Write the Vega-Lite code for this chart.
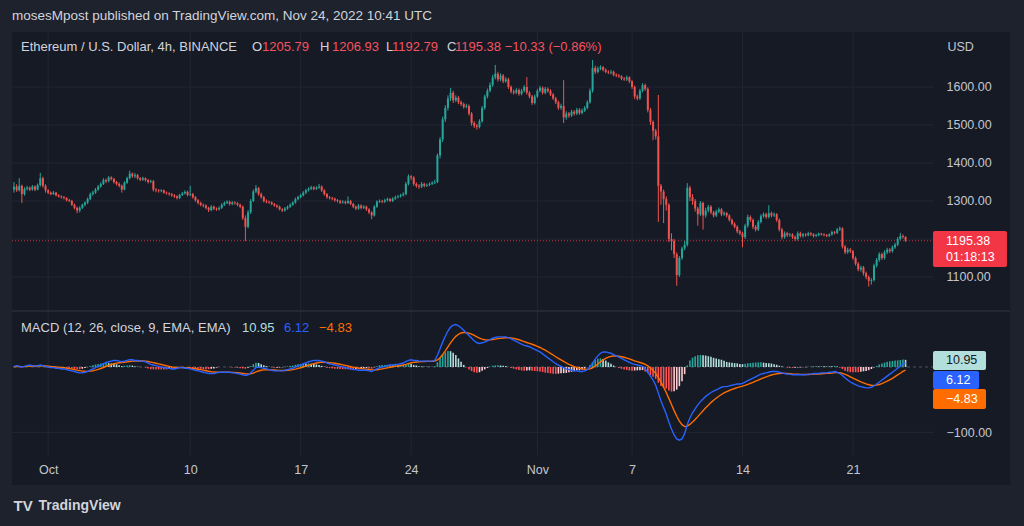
{
"$schema": "https://vega.github.io/schema/vega-lite/v6.json",
"width": 922, "height": 423,
"autosize": {"type": "none"},
"padding": {"left": 12, "top": 32, "right": 90, "bottom": 71},
"background": "#1e222d",
"config": {"view": {"fill": null, "stroke": null}, "font": "Liberation Sans", "text": {"font": "Liberation Sans"}},
"title": {"text": "mosesMpost published on TradingView.com, Nov 24, 2022 10:41 UTC", "anchor": "start", "frame": "group", "orient": "top", "offset": 11, "dy": 13, "fontSize": 13.5, "fontWeight": "normal", "color": "#d1d4dc", "baseline": "alphabetic", "font": "Liberation Sans"},
"datasets": {
"ohlc": [
{"t":"2022-09-28T20:00Z","o":1330,"hi":1350,"lo":1322,"c":1338,"m":1,"s":0.2,"h":0.8,"k":"gu"},
{"t":"2022-09-29T00:00Z","o":1338,"hi":1344,"lo":1324,"c":1328,"m":2,"s":0.6,"h":1.4,"k":"gu"},
{"t":"2022-09-29T04:00Z","o":1328,"hi":1360,"lo":1325,"c":1340,"m":1,"s":0.7,"h":0.3,"k":"gd"},
{"t":"2022-09-29T08:00Z","o":1340,"hi":1343,"lo":1295,"c":1318,"m":0,"s":0.6,"h":-0.6,"k":"rd"},
{"t":"2022-09-29T12:00Z","o":1318,"hi":1336,"lo":1314,"c":1332,"m":1,"s":0.7,"h":0.3,"k":"gu"},
{"t":"2022-09-29T16:00Z","o":1332,"hi":1340,"lo":1328,"c":1335,"m":2,"s":1.0,"h":1.0,"k":"gu"},
{"t":"2022-09-29T20:00Z","o":1335,"hi":1338,"lo":1326,"c":1330,"m":3,"s":1.4,"h":1.6,"k":"gu"},
{"t":"2022-09-30T00:00Z","o":1330,"hi":1342,"lo":1327,"c":1338,"m":2,"s":1.5,"h":0.5,"k":"gd"},
{"t":"2022-09-30T04:00Z","o":1338,"hi":1341,"lo":1326,"c":1330,"m":1,"s":1.4,"h":-0.4,"k":"rd"},
{"t":"2022-09-30T08:00Z","o":1330,"hi":1346,"lo":1328,"c":1342,"m":2,"s":1.5,"h":0.5,"k":"gu"},
{"t":"2022-09-30T12:00Z","o":1342,"hi":1374,"lo":1338,"c":1360,"m":3,"s":1.8,"h":1.2,"k":"gu"},
{"t":"2022-09-30T16:00Z","o":1360,"hi":1364,"lo":1335,"c":1340,"m":2,"s":1.8,"h":0.2,"k":"gd"},
{"t":"2022-09-30T20:00Z","o":1340,"hi":1344,"lo":1322,"c":1328,"m":1,"s":1.6,"h":-0.6,"k":"rd"},
{"t":"2022-10-01T00:00Z","o":1328,"hi":1331,"lo":1318,"c":1322,"m":0,"s":1.3,"h":-1.3,"k":"rd"},
{"t":"2022-10-01T04:00Z","o":1322,"hi":1325,"lo":1315,"c":1318,"m":-1,"s":0.8,"h":-1.8,"k":"rd"},
{"t":"2022-10-01T08:00Z","o":1318,"hi":1326,"lo":1316,"c":1322,"m":-1,"s":0.5,"h":-1.5,"k":"ru"},
{"t":"2022-10-01T12:00Z","o":1322,"hi":1324,"lo":1312,"c":1315,"m":-2,"s":0.0,"h":-2.0,"k":"rd"},
{"t":"2022-10-01T16:00Z","o":1315,"hi":1318,"lo":1309,"c":1312,"m":-2,"s":-0.4,"h":-1.6,"k":"ru"},
{"t":"2022-10-01T20:00Z","o":1312,"hi":1315,"lo":1306,"c":1310,"m":-3,"s":-0.9,"h":-2.1,"k":"rd"},
{"t":"2022-10-02T00:00Z","o":1310,"hi":1313,"lo":1304,"c":1308,"m":-3,"s":-1.3,"h":-1.7,"k":"ru"},
{"t":"2022-10-02T04:00Z","o":1308,"hi":1310,"lo":1299,"c":1302,"m":-4,"s":-1.8,"h":-2.2,"k":"rd"},
{"t":"2022-10-02T08:00Z","o":1302,"hi":1306,"lo":1297,"c":1300,"m":-5,"s":-2.5,"h":-2.5,"k":"rd"},
{"t":"2022-10-02T12:00Z","o":1300,"hi":1303,"lo":1287,"c":1290,"m":-6,"s":-3.2,"h":-2.8,"k":"rd"},
{"t":"2022-10-02T16:00Z","o":1290,"hi":1293,"lo":1278,"c":1282,"m":-7,"s":-4.0,"h":-3.0,"k":"rd"},
{"t":"2022-10-02T20:00Z","o":1282,"hi":1285,"lo":1268,"c":1275,"m":-8,"s":-4.8,"h":-3.2,"k":"rd"},
{"t":"2022-10-03T00:00Z","o":1275,"hi":1286,"lo":1270,"c":1282,"m":-9,"s":-5.6,"h":-3.4,"k":"rd"},
{"t":"2022-10-03T04:00Z","o":1282,"hi":1293,"lo":1279,"c":1290,"m":-9,"s":-6.3,"h":-2.7,"k":"ru"},
{"t":"2022-10-03T08:00Z","o":1290,"hi":1299,"lo":1286,"c":1296,"m":-8,"s":-6.6,"h":-1.4,"k":"ru"},
{"t":"2022-10-03T12:00Z","o":1296,"hi":1309,"lo":1292,"c":1305,"m":-7,"s":-6.7,"h":-0.3,"k":"ru"},
{"t":"2022-10-03T16:00Z","o":1305,"hi":1322,"lo":1302,"c":1318,"m":-5,"s":-6.4,"h":1.4,"k":"gu"},
{"t":"2022-10-03T20:00Z","o":1318,"hi":1327,"lo":1314,"c":1322,"m":-3,"s":-5.7,"h":2.7,"k":"gu"},
{"t":"2022-10-04T00:00Z","o":1322,"hi":1334,"lo":1319,"c":1330,"m":-1,"s":-4.8,"h":3.8,"k":"gu"},
{"t":"2022-10-04T04:00Z","o":1330,"hi":1342,"lo":1327,"c":1338,"m":1,"s":-3.6,"h":4.6,"k":"gu"},
{"t":"2022-10-04T08:00Z","o":1338,"hi":1349,"lo":1335,"c":1345,"m":3,"s":-2.3,"h":5.3,"k":"gu"},
{"t":"2022-10-04T12:00Z","o":1345,"hi":1360,"lo":1342,"c":1355,"m":5,"s":-0.8,"h":5.8,"k":"gu"},
{"t":"2022-10-04T16:00Z","o":1355,"hi":1359,"lo":1347,"c":1352,"m":7,"s":0.8,"h":6.2,"k":"gu"},
{"t":"2022-10-04T20:00Z","o":1352,"hi":1366,"lo":1349,"c":1362,"m":8,"s":2.2,"h":5.8,"k":"gd"},
{"t":"2022-10-05T00:00Z","o":1362,"hi":1365,"lo":1354,"c":1358,"m":9,"s":3.6,"h":5.4,"k":"gd"},
{"t":"2022-10-05T04:00Z","o":1358,"hi":1361,"lo":1346,"c":1350,"m":10,"s":4.9,"h":5.1,"k":"gd"},
{"t":"2022-10-05T08:00Z","o":1350,"hi":1353,"lo":1341,"c":1345,"m":10,"s":5.9,"h":4.1,"k":"gd"},
{"t":"2022-10-05T12:00Z","o":1345,"hi":1349,"lo":1336,"c":1340,"m":9,"s":6.5,"h":2.5,"k":"gd"},
{"t":"2022-10-05T16:00Z","o":1340,"hi":1343,"lo":1322,"c":1330,"m":8,"s":6.8,"h":1.2,"k":"gd"},
{"t":"2022-10-05T20:00Z","o":1330,"hi":1352,"lo":1328,"c":1348,"m":9,"s":7.2,"h":1.8,"k":"gu"},
{"t":"2022-10-06T00:00Z","o":1348,"hi":1364,"lo":1345,"c":1360,"m":10,"s":7.8,"h":2.2,"k":"gu"},
{"t":"2022-10-06T04:00Z","o":1360,"hi":1380,"lo":1357,"c":1372,"m":11,"s":8.4,"h":2.6,"k":"gu"},
{"t":"2022-10-06T08:00Z","o":1372,"hi":1375,"lo":1361,"c":1365,"m":11,"s":8.9,"h":2.1,"k":"gd"},
{"t":"2022-10-06T12:00Z","o":1365,"hi":1374,"lo":1360,"c":1368,"m":10,"s":9.1,"h":0.9,"k":"gd"},
{"t":"2022-10-06T16:00Z","o":1368,"hi":1371,"lo":1356,"c":1360,"m":10,"s":9.3,"h":0.7,"k":"gd"},
{"t":"2022-10-06T20:00Z","o":1360,"hi":1363,"lo":1352,"c":1356,"m":9,"s":9.2,"h":-0.2,"k":"rd"},
{"t":"2022-10-07T00:00Z","o":1356,"hi":1364,"lo":1353,"c":1360,"m":9,"s":9.2,"h":-0.2,"k":"rd"},
{"t":"2022-10-07T04:00Z","o":1360,"hi":1362,"lo":1351,"c":1355,"m":8,"s":9.0,"h":-1.0,"k":"rd"},
{"t":"2022-10-07T08:00Z","o":1355,"hi":1358,"lo":1346,"c":1350,"m":6,"s":8.4,"h":-2.4,"k":"rd"},
{"t":"2022-10-07T12:00Z","o":1350,"hi":1356,"lo":1347,"c":1352,"m":4,"s":7.5,"h":-3.5,"k":"rd"},
{"t":"2022-10-07T16:00Z","o":1352,"hi":1355,"lo":1325,"c":1330,"m":3,"s":6.6,"h":-3.6,"k":"rd"},
{"t":"2022-10-07T20:00Z","o":1330,"hi":1334,"lo":1323,"c":1328,"m":2,"s":5.7,"h":-3.7,"k":"rd"},
{"t":"2022-10-08T00:00Z","o":1328,"hi":1331,"lo":1322,"c":1326,"m":1,"s":4.8,"h":-3.8,"k":"rd"},
{"t":"2022-10-08T04:00Z","o":1326,"hi":1331,"lo":1323,"c":1328,"m":0,"s":3.8,"h":-3.8,"k":"rd"},
{"t":"2022-10-08T08:00Z","o":1328,"hi":1330,"lo":1319,"c":1322,"m":-1,"s":2.8,"h":-3.8,"k":"rd"},
{"t":"2022-10-08T12:00Z","o":1322,"hi":1325,"lo":1317,"c":1320,"m":-2,"s":1.8,"h":-3.8,"k":"rd"},
{"t":"2022-10-08T16:00Z","o":1320,"hi":1323,"lo":1314,"c":1318,"m":-2,"s":1.0,"h":-3.0,"k":"ru"},
{"t":"2022-10-08T20:00Z","o":1318,"hi":1321,"lo":1311,"c":1315,"m":-3,"s":0.2,"h":-3.2,"k":"rd"},
{"t":"2022-10-09T00:00Z","o":1315,"hi":1318,"lo":1308,"c":1312,"m":-3,"s":-0.4,"h":-2.6,"k":"ru"},
{"t":"2022-10-09T04:00Z","o":1312,"hi":1315,"lo":1304,"c":1308,"m":-2,"s":-0.7,"h":-1.3,"k":"ru"},
{"t":"2022-10-09T08:00Z","o":1308,"hi":1319,"lo":1305,"c":1316,"m":-1,"s":-0.8,"h":-0.2,"k":"ru"},
{"t":"2022-10-09T12:00Z","o":1316,"hi":1324,"lo":1313,"c":1320,"m":-1,"s":-0.8,"h":-0.2,"k":"rd"},
{"t":"2022-10-09T16:00Z","o":1320,"hi":1328,"lo":1317,"c":1324,"m":-2,"s":-1.0,"h":-1.0,"k":"rd"},
{"t":"2022-10-09T20:00Z","o":1324,"hi":1327,"lo":1312,"c":1316,"m":-2,"s":-1.2,"h":-0.8,"k":"ru"},
{"t":"2022-10-10T00:00Z","o":1316,"hi":1340,"lo":1313,"c":1318,"m":-3,"s":-1.6,"h":-1.4,"k":"rd"},
{"t":"2022-10-10T04:00Z","o":1318,"hi":1321,"lo":1306,"c":1310,"m":-4,"s":-2.1,"h":-1.9,"k":"rd"},
{"t":"2022-10-10T08:00Z","o":1310,"hi":1313,"lo":1298,"c":1302,"m":-5,"s":-2.7,"h":-2.3,"k":"rd"},
{"t":"2022-10-10T12:00Z","o":1302,"hi":1305,"lo":1291,"c":1295,"m":-6,"s":-3.4,"h":-2.6,"k":"rd"},
{"t":"2022-10-10T16:00Z","o":1295,"hi":1298,"lo":1286,"c":1290,"m":-7,"s":-4.1,"h":-2.9,"k":"rd"},
{"t":"2022-10-10T20:00Z","o":1290,"hi":1293,"lo":1283,"c":1288,"m":-8,"s":-4.9,"h":-3.1,"k":"rd"},
{"t":"2022-10-11T00:00Z","o":1288,"hi":1291,"lo":1278,"c":1282,"m":-9,"s":-5.7,"h":-3.3,"k":"rd"},
{"t":"2022-10-11T04:00Z","o":1282,"hi":1285,"lo":1271,"c":1276,"m":-10,"s":-6.6,"h":-3.4,"k":"rd"},
{"t":"2022-10-11T08:00Z","o":1276,"hi":1289,"lo":1273,"c":1285,"m":-10,"s":-7.3,"h":-2.7,"k":"ru"},
{"t":"2022-10-11T12:00Z","o":1285,"hi":1288,"lo":1276,"c":1280,"m":-10,"s":-7.8,"h":-2.2,"k":"ru"},
{"t":"2022-10-11T16:00Z","o":1280,"hi":1283,"lo":1274,"c":1278,"m":-9,"s":-8.0,"h":-1.0,"k":"ru"},
{"t":"2022-10-11T20:00Z","o":1278,"hi":1286,"lo":1275,"c":1282,"m":-8,"s":-8.0,"h":0,"k":"gu"},
{"t":"2022-10-12T00:00Z","o":1282,"hi":1294,"lo":1279,"c":1290,"m":-8,"s":-8.0,"h":0,"k":"gu"},
{"t":"2022-10-12T04:00Z","o":1290,"hi":1299,"lo":1287,"c":1295,"m":-8,"s":-8.0,"h":0,"k":"gu"},
{"t":"2022-10-12T08:00Z","o":1295,"hi":1302,"lo":1292,"c":1298,"m":-8,"s":-8.0,"h":0,"k":"gu"},
{"t":"2022-10-12T12:00Z","o":1298,"hi":1301,"lo":1288,"c":1292,"m":-8,"s":-8.0,"h":0,"k":"gu"},
{"t":"2022-10-12T16:00Z","o":1292,"hi":1300,"lo":1289,"c":1296,"m":-9,"s":-8.2,"h":-0.8,"k":"rd"},
{"t":"2022-10-12T20:00Z","o":1296,"hi":1299,"lo":1290,"c":1294,"m":-9,"s":-8.4,"h":-0.6,"k":"ru"},
{"t":"2022-10-13T00:00Z","o":1294,"hi":1297,"lo":1286,"c":1290,"m":-10,"s":-8.7,"h":-1.3,"k":"rd"},
{"t":"2022-10-13T04:00Z","o":1290,"hi":1293,"lo":1281,"c":1285,"m":-11,"s":-9.2,"h":-1.8,"k":"rd"},
{"t":"2022-10-13T08:00Z","o":1285,"hi":1288,"lo":1250,"c":1255,"m":-12,"s":-9.8,"h":-2.2,"k":"rd"},
{"t":"2022-10-13T12:00Z","o":1255,"hi":1262,"lo":1195,"c":1232,"m":-13,"s":-10.4,"h":-2.6,"k":"rd"},
{"t":"2022-10-13T16:00Z","o":1232,"hi":1276,"lo":1228,"c":1270,"m":-12,"s":-10.7,"h":-1.3,"k":"ru"},
{"t":"2022-10-13T20:00Z","o":1270,"hi":1305,"lo":1266,"c":1300,"m":-9,"s":-10.4,"h":1.4,"k":"gu"},
{"t":"2022-10-14T00:00Z","o":1300,"hi":1330,"lo":1297,"c":1325,"m":-5,"s":-9.3,"h":4.3,"k":"gu"},
{"t":"2022-10-14T04:00Z","o":1325,"hi":1342,"lo":1321,"c":1334,"m":-1,"s":-7.6,"h":6.6,"k":"gu"},
{"t":"2022-10-14T08:00Z","o":1334,"hi":1337,"lo":1314,"c":1318,"m":0,"s":-6.1,"h":6.1,"k":"gd"},
{"t":"2022-10-14T12:00Z","o":1318,"hi":1322,"lo":1306,"c":1310,"m":-1,"s":-5.1,"h":4.1,"k":"gd"},
{"t":"2022-10-14T16:00Z","o":1310,"hi":1313,"lo":1296,"c":1300,"m":-2,"s":-4.5,"h":2.5,"k":"gd"},
{"t":"2022-10-14T20:00Z","o":1300,"hi":1304,"lo":1294,"c":1298,"m":-3,"s":-4.2,"h":1.2,"k":"gd"},
{"t":"2022-10-15T00:00Z","o":1298,"hi":1301,"lo":1293,"c":1296,"m":-4,"s":-4.2,"h":0.2,"k":"gd"},
{"t":"2022-10-15T04:00Z","o":1296,"hi":1299,"lo":1289,"c":1292,"m":-5,"s":-4.4,"h":-0.6,"k":"rd"},
{"t":"2022-10-15T08:00Z","o":1292,"hi":1295,"lo":1285,"c":1288,"m":-6,"s":-4.7,"h":-1.3,"k":"rd"},
{"t":"2022-10-15T12:00Z","o":1288,"hi":1291,"lo":1281,"c":1285,"m":-6,"s":-5.0,"h":-1.0,"k":"ru"},
{"t":"2022-10-15T16:00Z","o":1285,"hi":1288,"lo":1275,"c":1278,"m":-6,"s":-5.2,"h":-0.8,"k":"ru"},
{"t":"2022-10-15T20:00Z","o":1278,"hi":1281,"lo":1271,"c":1275,"m":-6,"s":-5.4,"h":-0.6,"k":"ru"},
{"t":"2022-10-16T00:00Z","o":1275,"hi":1284,"lo":1272,"c":1280,"m":-5,"s":-5.3,"h":0.3,"k":"gu"},
{"t":"2022-10-16T04:00Z","o":1280,"hi":1288,"lo":1277,"c":1285,"m":-4,"s":-5.0,"h":1.0,"k":"gu"},
{"t":"2022-10-16T08:00Z","o":1285,"hi":1294,"lo":1282,"c":1290,"m":-3,"s":-4.6,"h":1.6,"k":"gu"},
{"t":"2022-10-16T12:00Z","o":1290,"hi":1299,"lo":1287,"c":1296,"m":-2,"s":-4.1,"h":2.1,"k":"gu"},
{"t":"2022-10-16T16:00Z","o":1296,"hi":1309,"lo":1293,"c":1305,"m":0,"s":-3.3,"h":3.3,"k":"gu"},
{"t":"2022-10-16T20:00Z","o":1305,"hi":1314,"lo":1302,"c":1310,"m":2,"s":-2.2,"h":4.2,"k":"gu"},
{"t":"2022-10-17T00:00Z","o":1310,"hi":1319,"lo":1307,"c":1315,"m":3,"s":-1.2,"h":4.2,"k":"gu"},
{"t":"2022-10-17T04:00Z","o":1315,"hi":1326,"lo":1312,"c":1322,"m":5,"s":0.0,"h":5.0,"k":"gu"},
{"t":"2022-10-17T08:00Z","o":1322,"hi":1332,"lo":1318,"c":1328,"m":6,"s":1.2,"h":4.8,"k":"gd"},
{"t":"2022-10-17T12:00Z","o":1328,"hi":1336,"lo":1325,"c":1332,"m":8,"s":2.6,"h":5.4,"k":"gu"},
{"t":"2022-10-17T16:00Z","o":1332,"hi":1340,"lo":1329,"c":1336,"m":9,"s":3.9,"h":5.1,"k":"gd"},
{"t":"2022-10-17T20:00Z","o":1336,"hi":1339,"lo":1328,"c":1332,"m":10,"s":5.1,"h":4.9,"k":"gd"},
{"t":"2022-10-18T00:00Z","o":1332,"hi":1339,"lo":1329,"c":1335,"m":10,"s":6.1,"h":3.9,"k":"gd"},
{"t":"2022-10-18T04:00Z","o":1335,"hi":1345,"lo":1332,"c":1338,"m":10,"s":6.9,"h":3.1,"k":"gd"},
{"t":"2022-10-18T08:00Z","o":1338,"hi":1341,"lo":1324,"c":1328,"m":9,"s":7.3,"h":1.7,"k":"gd"},
{"t":"2022-10-18T12:00Z","o":1328,"hi":1331,"lo":1314,"c":1318,"m":8,"s":7.4,"h":0.6,"k":"gd"},
{"t":"2022-10-18T16:00Z","o":1318,"hi":1321,"lo":1306,"c":1310,"m":6,"s":7.1,"h":-1.1,"k":"rd"},
{"t":"2022-10-18T20:00Z","o":1310,"hi":1313,"lo":1304,"c":1308,"m":5,"s":6.7,"h":-1.7,"k":"rd"},
{"t":"2022-10-19T00:00Z","o":1308,"hi":1311,"lo":1302,"c":1306,"m":4,"s":6.2,"h":-2.2,"k":"rd"},
{"t":"2022-10-19T04:00Z","o":1306,"hi":1309,"lo":1298,"c":1302,"m":3,"s":5.6,"h":-2.6,"k":"rd"},
{"t":"2022-10-19T08:00Z","o":1302,"hi":1305,"lo":1296,"c":1300,"m":2,"s":4.9,"h":-2.9,"k":"rd"},
{"t":"2022-10-19T12:00Z","o":1300,"hi":1303,"lo":1292,"c":1296,"m":1,"s":4.1,"h":-3.1,"k":"rd"},
{"t":"2022-10-19T16:00Z","o":1296,"hi":1302,"lo":1293,"c":1298,"m":0,"s":3.3,"h":-3.3,"k":"rd"},
{"t":"2022-10-19T20:00Z","o":1298,"hi":1301,"lo":1291,"c":1295,"m":-1,"s":2.4,"h":-3.4,"k":"rd"},
{"t":"2022-10-20T00:00Z","o":1295,"hi":1312,"lo":1292,"c":1300,"m":-2,"s":1.5,"h":-3.5,"k":"rd"},
{"t":"2022-10-20T04:00Z","o":1300,"hi":1303,"lo":1289,"c":1292,"m":-3,"s":0.6,"h":-3.6,"k":"rd"},
{"t":"2022-10-20T08:00Z","o":1292,"hi":1295,"lo":1281,"c":1285,"m":-4,"s":-0.3,"h":-3.7,"k":"rd"},
{"t":"2022-10-20T12:00Z","o":1285,"hi":1288,"lo":1276,"c":1280,"m":-4,"s":-1.0,"h":-3.0,"k":"ru"},
{"t":"2022-10-20T16:00Z","o":1280,"hi":1292,"lo":1277,"c":1288,"m":-5,"s":-1.8,"h":-3.2,"k":"rd"},
{"t":"2022-10-20T20:00Z","o":1288,"hi":1291,"lo":1278,"c":1282,"m":-5,"s":-2.4,"h":-2.6,"k":"ru"},
{"t":"2022-10-21T00:00Z","o":1282,"hi":1289,"lo":1279,"c":1285,"m":-5,"s":-2.9,"h":-2.1,"k":"ru"},
{"t":"2022-10-21T04:00Z","o":1285,"hi":1288,"lo":1274,"c":1278,"m":-5,"s":-3.3,"h":-1.7,"k":"ru"},
{"t":"2022-10-21T08:00Z","o":1278,"hi":1281,"lo":1266,"c":1270,"m":-6,"s":-3.8,"h":-2.2,"k":"rd"},
{"t":"2022-10-21T12:00Z","o":1270,"hi":1273,"lo":1252,"c":1262,"m":-7,"s":-4.4,"h":-2.6,"k":"rd"},
{"t":"2022-10-21T16:00Z","o":1262,"hi":1289,"lo":1259,"c":1285,"m":-5,"s":-4.5,"h":-0.5,"k":"ru"},
{"t":"2022-10-21T20:00Z","o":1285,"hi":1302,"lo":1282,"c":1298,"m":-3,"s":-4.2,"h":1.2,"k":"gu"},
{"t":"2022-10-22T00:00Z","o":1298,"hi":1304,"lo":1295,"c":1300,"m":-1,"s":-3.6,"h":2.6,"k":"gu"},
{"t":"2022-10-22T04:00Z","o":1300,"hi":1303,"lo":1294,"c":1298,"m":0,"s":-2.9,"h":2.9,"k":"gu"},
{"t":"2022-10-22T08:00Z","o":1298,"hi":1306,"lo":1295,"c":1302,"m":1,"s":-2.1,"h":3.1,"k":"gu"},
{"t":"2022-10-22T12:00Z","o":1302,"hi":1309,"lo":1299,"c":1305,"m":2,"s":-1.3,"h":3.3,"k":"gu"},
{"t":"2022-10-22T16:00Z","o":1305,"hi":1308,"lo":1297,"c":1300,"m":3,"s":-0.4,"h":3.4,"k":"gu"},
{"t":"2022-10-22T20:00Z","o":1300,"hi":1310,"lo":1297,"c":1306,"m":3,"s":0.3,"h":2.7,"k":"gd"},
{"t":"2022-10-23T00:00Z","o":1306,"hi":1314,"lo":1303,"c":1310,"m":4,"s":1.0,"h":3.0,"k":"gu"},
{"t":"2022-10-23T04:00Z","o":1310,"hi":1316,"lo":1307,"c":1312,"m":4,"s":1.6,"h":2.4,"k":"gd"},
{"t":"2022-10-23T08:00Z","o":1312,"hi":1319,"lo":1309,"c":1315,"m":5,"s":2.3,"h":2.7,"k":"gu"},
{"t":"2022-10-23T12:00Z","o":1315,"hi":1323,"lo":1312,"c":1318,"m":6,"s":3.0,"h":3.0,"k":"gu"},
{"t":"2022-10-23T16:00Z","o":1318,"hi":1350,"lo":1315,"c":1345,"m":8,"s":4.0,"h":4.0,"k":"gu"},
{"t":"2022-10-23T20:00Z","o":1345,"hi":1370,"lo":1341,"c":1365,"m":10,"s":5.2,"h":4.8,"k":"gu"},
{"t":"2022-10-24T00:00Z","o":1365,"hi":1368,"lo":1355,"c":1362,"m":11,"s":6.4,"h":4.6,"k":"gd"},
{"t":"2022-10-24T04:00Z","o":1362,"hi":1365,"lo":1340,"c":1345,"m":10,"s":7.1,"h":2.9,"k":"gd"},
{"t":"2022-10-24T08:00Z","o":1345,"hi":1349,"lo":1335,"c":1340,"m":10,"s":7.7,"h":2.3,"k":"gd"},
{"t":"2022-10-24T12:00Z","o":1340,"hi":1344,"lo":1332,"c":1338,"m":9,"s":8.0,"h":1.0,"k":"gd"},
{"t":"2022-10-24T16:00Z","o":1338,"hi":1350,"lo":1334,"c":1345,"m":9,"s":8.2,"h":0.8,"k":"gd"},
{"t":"2022-10-24T20:00Z","o":1345,"hi":1348,"lo":1336,"c":1340,"m":9,"s":8.4,"h":0.6,"k":"gd"},
{"t":"2022-10-25T00:00Z","o":1340,"hi":1346,"lo":1337,"c":1342,"m":9,"s":8.5,"h":0.5,"k":"gd"},
{"t":"2022-10-25T04:00Z","o":1342,"hi":1349,"lo":1339,"c":1345,"m":9,"s":8.6,"h":0.4,"k":"gd"},
{"t":"2022-10-25T08:00Z","o":1345,"hi":1352,"lo":1342,"c":1348,"m":9,"s":8.7,"h":0.3,"k":"gd"},
{"t":"2022-10-25T12:00Z","o":1348,"hi":1356,"lo":1344,"c":1350,"m":10,"s":9.0,"h":1.0,"k":"gu"},
{"t":"2022-10-25T16:00Z","o":1350,"hi":1425,"lo":1347,"c":1420,"m":18,"s":10.8,"h":7.2,"k":"gu"},
{"t":"2022-10-25T20:00Z","o":1420,"hi":1468,"lo":1412,"c":1462,"m":28,"s":14.2,"h":13.8,"k":"gu"},
{"t":"2022-10-26T00:00Z","o":1462,"hi":1522,"lo":1455,"c":1515,"m":38,"s":19.0,"h":19.0,"k":"gu"},
{"t":"2022-10-26T04:00Z","o":1515,"hi":1552,"lo":1508,"c":1545,"m":47,"s":24.6,"h":22.4,"k":"gu"},
{"t":"2022-10-26T08:00Z","o":1545,"hi":1578,"lo":1538,"c":1570,"m":55,"s":30.7,"h":24.3,"k":"gu"},
{"t":"2022-10-26T12:00Z","o":1570,"hi":1597,"lo":1563,"c":1585,"m":61,"s":36.8,"h":24.2,"k":"gd"},
{"t":"2022-10-26T16:00Z","o":1585,"hi":1590,"lo":1558,"c":1565,"m":64,"s":42.2,"h":21.8,"k":"gd"},
{"t":"2022-10-26T20:00Z","o":1565,"hi":1578,"lo":1560,"c":1572,"m":65,"s":46.8,"h":18.2,"k":"gd"},
{"t":"2022-10-27T00:00Z","o":1572,"hi":1576,"lo":1555,"c":1560,"m":63,"s":50.0,"h":13.0,"k":"gd"},
{"t":"2022-10-27T04:00Z","o":1560,"hi":1564,"lo":1550,"c":1555,"m":60,"s":52.0,"h":8.0,"k":"gd"},
{"t":"2022-10-27T08:00Z","o":1555,"hi":1559,"lo":1543,"c":1548,"m":56,"s":52.8,"h":3.2,"k":"gd"},
{"t":"2022-10-27T12:00Z","o":1548,"hi":1556,"lo":1544,"c":1550,"m":52,"s":52.6,"h":-0.6,"k":"rd"},
{"t":"2022-10-27T16:00Z","o":1550,"hi":1554,"lo":1525,"c":1530,"m":48,"s":51.7,"h":-3.7,"k":"rd"},
{"t":"2022-10-27T20:00Z","o":1530,"hi":1534,"lo":1498,"c":1505,"m":44,"s":50.2,"h":-6.2,"k":"rd"},
{"t":"2022-10-28T00:00Z","o":1505,"hi":1510,"lo":1492,"c":1498,"m":40,"s":48.2,"h":-8.2,"k":"rd"},
{"t":"2022-10-28T04:00Z","o":1498,"hi":1503,"lo":1488,"c":1495,"m":37,"s":46.0,"h":-9.0,"k":"rd"},
{"t":"2022-10-28T08:00Z","o":1495,"hi":1515,"lo":1491,"c":1510,"m":36,"s":44.0,"h":-8.0,"k":"ru"},
{"t":"2022-10-28T12:00Z","o":1510,"hi":1550,"lo":1506,"c":1545,"m":37,"s":42.6,"h":-5.6,"k":"ru"},
{"t":"2022-10-28T16:00Z","o":1545,"hi":1580,"lo":1540,"c":1575,"m":38,"s":41.7,"h":-3.7,"k":"ru"},
{"t":"2022-10-28T20:00Z","o":1575,"hi":1596,"lo":1570,"c":1590,"m":40,"s":41.4,"h":-1.4,"k":"ru"},
{"t":"2022-10-29T00:00Z","o":1590,"hi":1612,"lo":1586,"c":1605,"m":42,"s":41.5,"h":0.5,"k":"gu"},
{"t":"2022-10-29T04:00Z","o":1605,"hi":1632,"lo":1600,"c":1625,"m":44,"s":42.0,"h":2.0,"k":"gu"},
{"t":"2022-10-29T08:00Z","o":1625,"hi":1658,"lo":1620,"c":1635,"m":45,"s":42.6,"h":2.4,"k":"gu"},
{"t":"2022-10-29T12:00Z","o":1635,"hi":1640,"lo":1614,"c":1620,"m":46,"s":43.3,"h":2.7,"k":"gu"},
{"t":"2022-10-29T16:00Z","o":1620,"hi":1636,"lo":1615,"c":1630,"m":46,"s":43.8,"h":2.2,"k":"gd"},
{"t":"2022-10-29T20:00Z","o":1630,"hi":1634,"lo":1610,"c":1615,"m":46,"s":44.2,"h":1.8,"k":"gd"},
{"t":"2022-10-30T00:00Z","o":1615,"hi":1626,"lo":1611,"c":1620,"m":46,"s":44.6,"h":1.4,"k":"gd"},
{"t":"2022-10-30T04:00Z","o":1620,"hi":1624,"lo":1595,"c":1600,"m":45,"s":44.7,"h":0.3,"k":"gd"},
{"t":"2022-10-30T08:00Z","o":1600,"hi":1604,"lo":1583,"c":1588,"m":43,"s":44.4,"h":-1.4,"k":"rd"},
{"t":"2022-10-30T12:00Z","o":1588,"hi":1593,"lo":1580,"c":1585,"m":41,"s":43.7,"h":-2.7,"k":"rd"},
{"t":"2022-10-30T16:00Z","o":1585,"hi":1597,"lo":1581,"c":1592,"m":39,"s":42.8,"h":-3.8,"k":"rd"},
{"t":"2022-10-30T20:00Z","o":1592,"hi":1596,"lo":1577,"c":1582,"m":37,"s":41.6,"h":-4.6,"k":"rd"},
{"t":"2022-10-31T00:00Z","o":1582,"hi":1595,"lo":1578,"c":1590,"m":35,"s":40.3,"h":-5.3,"k":"rd"},
{"t":"2022-10-31T04:00Z","o":1590,"hi":1605,"lo":1586,"c":1600,"m":33,"s":38.8,"h":-5.8,"k":"rd"},
{"t":"2022-10-31T08:00Z","o":1600,"hi":1626,"lo":1580,"c":1585,"m":32,"s":37.4,"h":-5.4,"k":"ru"},
{"t":"2022-10-31T12:00Z","o":1585,"hi":1589,"lo":1570,"c":1575,"m":31,"s":36.1,"h":-5.1,"k":"ru"},
{"t":"2022-10-31T16:00Z","o":1575,"hi":1579,"lo":1553,"c":1558,"m":29,"s":34.7,"h":-5.7,"k":"rd"},
{"t":"2022-10-31T20:00Z","o":1558,"hi":1580,"lo":1554,"c":1575,"m":27,"s":33.2,"h":-6.2,"k":"rd"},
{"t":"2022-11-01T00:00Z","o":1575,"hi":1595,"lo":1571,"c":1590,"m":25,"s":31.5,"h":-6.5,"k":"rd"},
{"t":"2022-11-01T04:00Z","o":1590,"hi":1603,"lo":1586,"c":1598,"m":23,"s":29.8,"h":-6.8,"k":"rd"},
{"t":"2022-11-01T08:00Z","o":1598,"hi":1601,"lo":1580,"c":1585,"m":20,"s":27.8,"h":-7.8,"k":"rd"},
{"t":"2022-11-01T12:00Z","o":1585,"hi":1600,"lo":1581,"c":1595,"m":17,"s":25.7,"h":-8.7,"k":"rd"},
{"t":"2022-11-01T16:00Z","o":1595,"hi":1599,"lo":1585,"c":1590,"m":14,"s":23.3,"h":-9.3,"k":"rd"},
{"t":"2022-11-01T20:00Z","o":1590,"hi":1594,"lo":1576,"c":1580,"m":11,"s":20.9,"h":-9.9,"k":"rd"},
{"t":"2022-11-02T00:00Z","o":1580,"hi":1584,"lo":1566,"c":1570,"m":8,"s":18.3,"h":-10.3,"k":"rd"},
{"t":"2022-11-02T04:00Z","o":1570,"hi":1574,"lo":1555,"c":1560,"m":5,"s":15.6,"h":-10.6,"k":"rd"},
{"t":"2022-11-02T08:00Z","o":1560,"hi":1564,"lo":1540,"c":1545,"m":3,"s":13.1,"h":-10.1,"k":"ru"},
{"t":"2022-11-02T12:00Z","o":1545,"hi":1556,"lo":1540,"c":1550,"m":1,"s":10.7,"h":-9.7,"k":"ru"},
{"t":"2022-11-02T16:00Z","o":1550,"hi":1618,"lo":1505,"c":1520,"m":-1,"s":8.4,"h":-9.4,"k":"ru"},
{"t":"2022-11-02T20:00Z","o":1520,"hi":1536,"lo":1514,"c":1530,"m":-3,"s":6.1,"h":-9.1,"k":"ru"},
{"t":"2022-11-03T00:00Z","o":1530,"hi":1534,"lo":1519,"c":1525,"m":-4,"s":4.1,"h":-8.1,"k":"ru"},
{"t":"2022-11-03T04:00Z","o":1525,"hi":1540,"lo":1521,"c":1535,"m":-5,"s":2.3,"h":-7.3,"k":"ru"},
{"t":"2022-11-03T08:00Z","o":1535,"hi":1539,"lo":1525,"c":1530,"m":-6,"s":0.6,"h":-6.6,"k":"ru"},
{"t":"2022-11-03T12:00Z","o":1530,"hi":1545,"lo":1526,"c":1540,"m":-6,"s":-0.7,"h":-5.3,"k":"ru"},
{"t":"2022-11-03T16:00Z","o":1540,"hi":1544,"lo":1527,"c":1532,"m":-7,"s":-2.0,"h":-5.0,"k":"ru"},
{"t":"2022-11-03T20:00Z","o":1532,"hi":1543,"lo":1528,"c":1538,"m":-7,"s":-3.0,"h":-4.0,"k":"ru"},
{"t":"2022-11-04T00:00Z","o":1538,"hi":1550,"lo":1534,"c":1545,"m":-6,"s":-3.6,"h":-2.4,"k":"ru"},
{"t":"2022-11-04T04:00Z","o":1545,"hi":1565,"lo":1541,"c":1560,"m":-4,"s":-3.7,"h":-0.3,"k":"ru"},
{"t":"2022-11-04T08:00Z","o":1560,"hi":1596,"lo":1556,"c":1590,"m":0,"s":-3.0,"h":3.0,"k":"gu"},
{"t":"2022-11-04T12:00Z","o":1590,"hi":1671,"lo":1585,"c":1650,"m":6,"s":-1.2,"h":7.2,"k":"gu"},
{"t":"2022-11-04T16:00Z","o":1650,"hi":1656,"lo":1634,"c":1640,"m":12,"s":1.4,"h":10.6,"k":"gu"},
{"t":"2022-11-04T20:00Z","o":1640,"hi":1654,"lo":1636,"c":1648,"m":17,"s":4.5,"h":12.5,"k":"gu"},
{"t":"2022-11-05T00:00Z","o":1648,"hi":1657,"lo":1644,"c":1652,"m":21,"s":7.8,"h":13.2,"k":"gu"},
{"t":"2022-11-05T04:00Z","o":1652,"hi":1655,"lo":1641,"c":1645,"m":23,"s":10.8,"h":12.2,"k":"gd"},
{"t":"2022-11-05T08:00Z","o":1645,"hi":1649,"lo":1636,"c":1640,"m":23,"s":13.2,"h":9.8,"k":"gd"},
{"t":"2022-11-05T12:00Z","o":1640,"hi":1644,"lo":1634,"c":1638,"m":22,"s":15.0,"h":7.0,"k":"gd"},
{"t":"2022-11-05T16:00Z","o":1638,"hi":1645,"lo":1633,"c":1640,"m":21,"s":16.2,"h":4.8,"k":"gd"},
{"t":"2022-11-05T20:00Z","o":1640,"hi":1643,"lo":1628,"c":1632,"m":19,"s":16.8,"h":2.2,"k":"gd"},
{"t":"2022-11-06T00:00Z","o":1632,"hi":1636,"lo":1626,"c":1630,"m":17,"s":16.8,"h":0.2,"k":"gd"},
{"t":"2022-11-06T04:00Z","o":1630,"hi":1634,"lo":1624,"c":1628,"m":15,"s":16.4,"h":-1.4,"k":"rd"},
{"t":"2022-11-06T08:00Z","o":1628,"hi":1631,"lo":1618,"c":1622,"m":13,"s":15.7,"h":-2.7,"k":"rd"},
{"t":"2022-11-06T12:00Z","o":1622,"hi":1626,"lo":1616,"c":1620,"m":11,"s":14.8,"h":-3.8,"k":"rd"},
{"t":"2022-11-06T16:00Z","o":1620,"hi":1630,"lo":1616,"c":1625,"m":9,"s":13.6,"h":-4.6,"k":"rd"},
{"t":"2022-11-06T20:00Z","o":1625,"hi":1628,"lo":1610,"c":1615,"m":7,"s":12.3,"h":-5.3,"k":"rd"},
{"t":"2022-11-07T00:00Z","o":1615,"hi":1618,"lo":1595,"c":1600,"m":5,"s":10.8,"h":-5.8,"k":"rd"},
{"t":"2022-11-07T04:00Z","o":1600,"hi":1604,"lo":1568,"c":1575,"m":4,"s":9.4,"h":-5.4,"k":"ru"},
{"t":"2022-11-07T08:00Z","o":1575,"hi":1580,"lo":1565,"c":1570,"m":3,"s":8.1,"h":-5.1,"k":"ru"},
{"t":"2022-11-07T12:00Z","o":1570,"hi":1595,"lo":1566,"c":1590,"m":2,"s":6.9,"h":-4.9,"k":"ru"},
{"t":"2022-11-07T16:00Z","o":1590,"hi":1610,"lo":1586,"c":1605,"m":1,"s":5.7,"h":-4.7,"k":"ru"},
{"t":"2022-11-07T20:00Z","o":1605,"hi":1609,"lo":1590,"c":1595,"m":-3,"s":4.0,"h":-7.0,"k":"rd"},
{"t":"2022-11-08T00:00Z","o":1595,"hi":1599,"lo":1533,"c":1540,"m":-8,"s":1.6,"h":-9.6,"k":"rd"},
{"t":"2022-11-08T04:00Z","o":1540,"hi":1545,"lo":1500,"c":1508,"m":-14,"s":-1.5,"h":-12.5,"k":"rd"},
{"t":"2022-11-08T08:00Z","o":1508,"hi":1512,"lo":1460,"c":1485,"m":-20,"s":-5.2,"h":-14.8,"k":"rd"},
{"t":"2022-11-08T12:00Z","o":1485,"hi":1490,"lo":1462,"c":1470,"m":-28,"s":-9.8,"h":-18.2,"k":"rd"},
{"t":"2022-11-08T16:00Z","o":1470,"hi":1579,"lo":1245,"c":1340,"m":-40,"s":-15.8,"h":-24.2,"k":"rd"},
{"t":"2022-11-08T20:00Z","o":1340,"hi":1345,"lo":1290,"c":1325,"m":-52,"s":-23.0,"h":-29.0,"k":"rd"},
{"t":"2022-11-09T00:00Z","o":1325,"hi":1330,"lo":1242,"c":1305,"m":-62,"s":-30.8,"h":-31.2,"k":"rd"},
{"t":"2022-11-09T04:00Z","o":1305,"hi":1312,"lo":1275,"c":1290,"m":-72,"s":-39.0,"h":-33.0,"k":"rd"},
{"t":"2022-11-09T08:00Z","o":1290,"hi":1294,"lo":1192,"c":1200,"m":-84,"s":-48.0,"h":-36.0,"k":"rd"},
{"t":"2022-11-09T12:00Z","o":1200,"hi":1215,"lo":1170,"c":1195,"m":-95,"s":-57.4,"h":-37.6,"k":"rd"},
{"t":"2022-11-09T16:00Z","o":1195,"hi":1200,"lo":1150,"c":1160,"m":-104,"s":-66.7,"h":-37.3,"k":"ru"},
{"t":"2022-11-09T20:00Z","o":1160,"hi":1165,"lo":1077,"c":1105,"m":-110,"s":-75.4,"h":-34.6,"k":"ru"},
{"t":"2022-11-10T00:00Z","o":1105,"hi":1155,"lo":1100,"c":1150,"m":-112,"s":-82.7,"h":-29.3,"k":"ru"},
{"t":"2022-11-10T04:00Z","o":1150,"hi":1180,"lo":1145,"c":1175,"m":-110,"s":-88.2,"h":-21.8,"k":"ru"},
{"t":"2022-11-10T08:00Z","o":1175,"hi":1195,"lo":1170,"c":1185,"m":-102,"s":-91.0,"h":-11.0,"k":"ru"},
{"t":"2022-11-10T12:00Z","o":1185,"hi":1347,"lo":1180,"c":1335,"m":-88,"s":-90.4,"h":2.4,"k":"gu"},
{"t":"2022-11-10T16:00Z","o":1335,"hi":1340,"lo":1300,"c":1310,"m":-78,"s":-87.9,"h":9.9,"k":"gu"},
{"t":"2022-11-10T20:00Z","o":1310,"hi":1318,"lo":1290,"c":1300,"m":-70,"s":-84.3,"h":14.3,"k":"gu"},
{"t":"2022-11-11T00:00Z","o":1300,"hi":1305,"lo":1272,"c":1280,"m":-64,"s":-80.3,"h":16.3,"k":"gu"},
{"t":"2022-11-11T04:00Z","o":1280,"hi":1285,"lo":1235,"c":1265,"m":-58,"s":-75.9,"h":17.9,"k":"gu"},
{"t":"2022-11-11T08:00Z","o":1265,"hi":1300,"lo":1260,"c":1295,"m":-53,"s":-71.3,"h":18.3,"k":"gu"},
{"t":"2022-11-11T12:00Z","o":1295,"hi":1298,"lo":1225,"c":1262,"m":-49,"s":-66.8,"h":17.8,"k":"gd"},
{"t":"2022-11-11T16:00Z","o":1262,"hi":1282,"lo":1256,"c":1275,"m":-45,"s":-62.5,"h":17.5,"k":"gd"},
{"t":"2022-11-11T20:00Z","o":1275,"hi":1290,"lo":1270,"c":1285,"m":-42,"s":-58.4,"h":16.4,"k":"gd"},
{"t":"2022-11-12T00:00Z","o":1285,"hi":1289,"lo":1265,"c":1270,"m":-39,"s":-54.5,"h":15.5,"k":"gd"},
{"t":"2022-11-12T04:00Z","o":1270,"hi":1274,"lo":1257,"c":1262,"m":-37,"s":-51.0,"h":14.0,"k":"gd"},
{"t":"2022-11-12T08:00Z","o":1262,"hi":1277,"lo":1258,"c":1272,"m":-35,"s":-47.8,"h":12.8,"k":"gd"},
{"t":"2022-11-12T12:00Z","o":1272,"hi":1283,"lo":1268,"c":1278,"m":-33,"s":-44.8,"h":11.8,"k":"gd"},
{"t":"2022-11-12T16:00Z","o":1278,"hi":1281,"lo":1260,"c":1265,"m":-31,"s":-42.1,"h":11.1,"k":"gd"},
{"t":"2022-11-12T20:00Z","o":1265,"hi":1273,"lo":1261,"c":1268,"m":-30,"s":-39.7,"h":9.7,"k":"gd"},
{"t":"2022-11-13T00:00Z","o":1268,"hi":1271,"lo":1257,"c":1262,"m":-30,"s":-37.7,"h":7.7,"k":"gd"},
{"t":"2022-11-13T04:00Z","o":1262,"hi":1265,"lo":1246,"c":1250,"m":-29,"s":-36.0,"h":7.0,"k":"gd"},
{"t":"2022-11-13T08:00Z","o":1250,"hi":1254,"lo":1236,"c":1240,"m":-28,"s":-34.4,"h":6.4,"k":"gd"},
{"t":"2022-11-13T12:00Z","o":1240,"hi":1244,"lo":1228,"c":1232,"m":-27,"s":-32.9,"h":5.9,"k":"gd"},
{"t":"2022-11-13T16:00Z","o":1232,"hi":1236,"lo":1215,"c":1220,"m":-26,"s":-31.5,"h":5.5,"k":"gd"},
{"t":"2022-11-13T20:00Z","o":1220,"hi":1224,"lo":1210,"c":1215,"m":-26,"s":-30.4,"h":4.4,"k":"gd"},
{"t":"2022-11-14T00:00Z","o":1215,"hi":1219,"lo":1178,"c":1205,"m":-25,"s":-29.3,"h":4.3,"k":"gd"},
{"t":"2022-11-14T04:00Z","o":1205,"hi":1240,"lo":1200,"c":1235,"m":-23,"s":-28.1,"h":5.1,"k":"gu"},
{"t":"2022-11-14T08:00Z","o":1235,"hi":1264,"lo":1230,"c":1258,"m":-21,"s":-26.7,"h":5.7,"k":"gu"},
{"t":"2022-11-14T12:00Z","o":1258,"hi":1262,"lo":1245,"c":1250,"m":-19,"s":-25.1,"h":6.1,"k":"gu"},
{"t":"2022-11-14T16:00Z","o":1250,"hi":1254,"lo":1226,"c":1232,"m":-17,"s":-23.5,"h":6.5,"k":"gu"},
{"t":"2022-11-14T20:00Z","o":1232,"hi":1237,"lo":1220,"c":1225,"m":-15,"s":-21.8,"h":6.8,"k":"gu"},
{"t":"2022-11-15T00:00Z","o":1225,"hi":1250,"lo":1221,"c":1245,"m":-13,"s":-20.0,"h":7.0,"k":"gu"},
{"t":"2022-11-15T04:00Z","o":1245,"hi":1265,"lo":1241,"c":1260,"m":-11,"s":-18.2,"h":7.2,"k":"gu"},
{"t":"2022-11-15T08:00Z","o":1260,"hi":1270,"lo":1256,"c":1265,"m":-10,"s":-16.6,"h":6.6,"k":"gd"},
{"t":"2022-11-15T12:00Z","o":1265,"hi":1269,"lo":1253,"c":1258,"m":-9,"s":-15.1,"h":6.1,"k":"gd"},
{"t":"2022-11-15T16:00Z","o":1258,"hi":1289,"lo":1254,"c":1268,"m":-8,"s":-13.7,"h":5.7,"k":"gd"},
{"t":"2022-11-15T20:00Z","o":1268,"hi":1272,"lo":1257,"c":1262,"m":-7,"s":-12.3,"h":5.3,"k":"gd"},
{"t":"2022-11-16T00:00Z","o":1262,"hi":1270,"lo":1258,"c":1265,"m":-7,"s":-11.3,"h":4.3,"k":"gd"},
{"t":"2022-11-16T04:00Z","o":1265,"hi":1268,"lo":1245,"c":1250,"m":-7,"s":-10.4,"h":3.4,"k":"gd"},
{"t":"2022-11-16T08:00Z","o":1250,"hi":1254,"lo":1220,"c":1225,"m":-8,"s":-9.9,"h":1.9,"k":"gd"},
{"t":"2022-11-16T12:00Z","o":1225,"hi":1229,"lo":1199,"c":1205,"m":-9,"s":-9.7,"h":0.7,"k":"gd"},
{"t":"2022-11-16T16:00Z","o":1205,"hi":1220,"lo":1201,"c":1215,"m":-10,"s":-9.8,"h":-0.2,"k":"rd"},
{"t":"2022-11-16T20:00Z","o":1215,"hi":1219,"lo":1205,"c":1210,"m":-11,"s":-10.0,"h":-1.0,"k":"rd"},
{"t":"2022-11-17T00:00Z","o":1210,"hi":1216,"lo":1206,"c":1212,"m":-11,"s":-10.2,"h":-0.8,"k":"ru"},
{"t":"2022-11-17T04:00Z","o":1212,"hi":1215,"lo":1200,"c":1205,"m":-12,"s":-10.6,"h":-1.4,"k":"rd"},
{"t":"2022-11-17T08:00Z","o":1205,"hi":1209,"lo":1195,"c":1200,"m":-12,"s":-10.9,"h":-1.1,"k":"ru"},
{"t":"2022-11-17T12:00Z","o":1200,"hi":1220,"lo":1196,"c":1215,"m":-12,"s":-11.1,"h":-0.9,"k":"ru"},
{"t":"2022-11-17T16:00Z","o":1215,"hi":1219,"lo":1204,"c":1208,"m":-12,"s":-11.3,"h":-0.7,"k":"ru"},
{"t":"2022-11-17T20:00Z","o":1208,"hi":1216,"lo":1204,"c":1212,"m":-12,"s":-11.4,"h":-0.6,"k":"ru"},
{"t":"2022-11-18T00:00Z","o":1212,"hi":1215,"lo":1206,"c":1210,"m":-12,"s":-11.5,"h":-0.5,"k":"ru"},
{"t":"2022-11-18T04:00Z","o":1210,"hi":1219,"lo":1207,"c":1215,"m":-11,"s":-11.4,"h":0.4,"k":"gu"},
{"t":"2022-11-18T08:00Z","o":1215,"hi":1218,"lo":1208,"c":1212,"m":-11,"s":-11.3,"h":0.3,"k":"gd"},
{"t":"2022-11-18T12:00Z","o":1212,"hi":1215,"lo":1204,"c":1208,"m":-10,"s":-11.0,"h":1.0,"k":"gu"},
{"t":"2022-11-18T16:00Z","o":1208,"hi":1214,"lo":1205,"c":1210,"m":-10,"s":-10.8,"h":0.8,"k":"gd"},
{"t":"2022-11-18T20:00Z","o":1210,"hi":1217,"lo":1207,"c":1214,"m":-10,"s":-10.7,"h":0.7,"k":"gd"},
{"t":"2022-11-19T00:00Z","o":1214,"hi":1216,"lo":1209,"c":1212,"m":-9,"s":-10.3,"h":1.3,"k":"gu"},
{"t":"2022-11-19T04:00Z","o":1212,"hi":1215,"lo":1207,"c":1210,"m":-9,"s":-10.0,"h":1.0,"k":"gd"},
{"t":"2022-11-19T08:00Z","o":1210,"hi":1213,"lo":1205,"c":1208,"m":-9,"s":-9.8,"h":0.8,"k":"gd"},
{"t":"2022-11-19T12:00Z","o":1208,"hi":1215,"lo":1205,"c":1212,"m":-8,"s":-9.5,"h":1.5,"k":"gu"},
{"t":"2022-11-19T16:00Z","o":1212,"hi":1222,"lo":1209,"c":1218,"m":-8,"s":-9.2,"h":1.2,"k":"gd"},
{"t":"2022-11-19T20:00Z","o":1218,"hi":1221,"lo":1212,"c":1216,"m":-7,"s":-8.7,"h":1.7,"k":"gu"},
{"t":"2022-11-20T00:00Z","o":1216,"hi":1229,"lo":1213,"c":1225,"m":-8,"s":-8.6,"h":0.6,"k":"gd"},
{"t":"2022-11-20T04:00Z","o":1225,"hi":1233,"lo":1221,"c":1228,"m":-10,"s":-8.9,"h":-1.1,"k":"rd"},
{"t":"2022-11-20T08:00Z","o":1228,"hi":1231,"lo":1175,"c":1180,"m":-13,"s":-9.7,"h":-3.3,"k":"rd"},
{"t":"2022-11-20T12:00Z","o":1180,"hi":1184,"lo":1160,"c":1165,"m":-17,"s":-11.2,"h":-5.8,"k":"rd"},
{"t":"2022-11-20T16:00Z","o":1165,"hi":1177,"lo":1161,"c":1172,"m":-20,"s":-12.9,"h":-7.1,"k":"rd"},
{"t":"2022-11-20T20:00Z","o":1172,"hi":1176,"lo":1163,"c":1168,"m":-23,"s":-15.0,"h":-8.0,"k":"rd"},
{"t":"2022-11-21T00:00Z","o":1168,"hi":1171,"lo":1145,"c":1150,"m":-25,"s":-17.0,"h":-8.0,"k":"rd"},
{"t":"2022-11-21T04:00Z","o":1150,"hi":1154,"lo":1130,"c":1135,"m":-27,"s":-19.0,"h":-8.0,"k":"rd"},
{"t":"2022-11-21T08:00Z","o":1135,"hi":1139,"lo":1115,"c":1120,"m":-29,"s":-21.0,"h":-8.0,"k":"rd"},
{"t":"2022-11-21T12:00Z","o":1120,"hi":1130,"lo":1114,"c":1125,"m":-30,"s":-22.8,"h":-7.2,"k":"ru"},
{"t":"2022-11-21T16:00Z","o":1125,"hi":1129,"lo":1104,"c":1110,"m":-31,"s":-24.4,"h":-6.6,"k":"ru"},
{"t":"2022-11-21T20:00Z","o":1110,"hi":1114,"lo":1094,"c":1100,"m":-32,"s":-25.9,"h":-6.1,"k":"ru"},
{"t":"2022-11-22T00:00Z","o":1100,"hi":1104,"lo":1075,"c":1090,"m":-32,"s":-27.1,"h":-4.9,"k":"ru"},
{"t":"2022-11-22T04:00Z","o":1090,"hi":1097,"lo":1080,"c":1092,"m":-31,"s":-27.9,"h":-3.1,"k":"ru"},
{"t":"2022-11-22T08:00Z","o":1092,"hi":1135,"lo":1088,"c":1130,"m":-29,"s":-28.1,"h":-0.9,"k":"ru"},
{"t":"2022-11-22T12:00Z","o":1130,"hi":1150,"lo":1125,"c":1145,"m":-26,"s":-27.7,"h":1.7,"k":"gu"},
{"t":"2022-11-22T16:00Z","o":1145,"hi":1165,"lo":1140,"c":1160,"m":-23,"s":-26.8,"h":3.8,"k":"gu"},
{"t":"2022-11-22T20:00Z","o":1160,"hi":1164,"lo":1145,"c":1150,"m":-20,"s":-25.4,"h":5.4,"k":"gu"},
{"t":"2022-11-23T00:00Z","o":1150,"hi":1170,"lo":1146,"c":1165,"m":-17,"s":-23.7,"h":6.7,"k":"gu"},
{"t":"2022-11-23T04:00Z","o":1165,"hi":1177,"lo":1160,"c":1172,"m":-14,"s":-21.8,"h":7.8,"k":"gu"},
{"t":"2022-11-23T08:00Z","o":1172,"hi":1176,"lo":1163,"c":1168,"m":-11,"s":-19.6,"h":8.6,"k":"gu"},
{"t":"2022-11-23T12:00Z","o":1168,"hi":1183,"lo":1164,"c":1178,"m":-8,"s":-17.3,"h":9.3,"k":"gu"},
{"t":"2022-11-23T16:00Z","o":1178,"hi":1190,"lo":1174,"c":1185,"m":-5,"s":-14.8,"h":9.8,"k":"gu"},
{"t":"2022-11-23T20:00Z","o":1185,"hi":1205,"lo":1181,"c":1200,"m":-2,"s":-12.2,"h":10.2,"k":"gu"},
{"t":"2022-11-24T00:00Z","o":1200,"hi":1216,"lo":1196,"c":1208,"m":1,"s":-9.6,"h":10.6,"k":"gu"},
{"t":"2022-11-24T04:00Z","o":1208,"hi":1212,"lo":1201,"c":1205.79,"m":4.5,"s":-6.8,"h":11.3,"k":"gu"},
{"t":"2022-11-24T08:00Z","o":1205.79,"hi":1206.93,"lo":1192.79,"c":1195.38,"m":6.12,"s":-4.83,"h":10.95,"k":"gd"}
],
"vt": [{"t":"2022-10-01T00:00Z"},{"t":"2022-10-10T00:00Z"},{"t":"2022-10-17T00:00Z"},{"t":"2022-10-24T00:00Z"},{"t":"2022-11-01T00:00Z"},{"t":"2022-11-07T00:00Z"},{"t":"2022-11-14T00:00Z"},{"t":"2022-11-21T00:00Z"}],
"pg": [{"p":1100},{"p":1200},{"p":1300},{"p":1400},{"p":1500},{"p":1600}],
"leg1": [
{"s":"Ethereum / U.S. Dollar, 4h, BINANCE","t":"2022-09-29T06:41Z","g":"t"},
{"s":"O","t":"2022-10-13T22:00Z","g":"t"},
{"s":"1205.79","t":"2022-10-14T13:14Z","g":"r"},
{"s":"H","t":"2022-10-18T05:26Z","g":"t"},
{"s":"1206.93","t":"2022-10-18T23:42Z","g":"r"},
{"s":"L","t":"2022-10-22T09:50Z","g":"t"},
{"s":"1192.79","t":"2022-10-22T18:56Z","g":"r"},
{"s":"C","t":"2022-10-26T06:37Z","g":"t"},
{"s":"1195.38 −10.33 (−0.86%)","t":"2022-10-26T18:47Z","g":"r"}
],
"leg2": [
{"s":"MACD (12, 26, close, 9, EMA, EMA)","t":"2022-09-29T06:41Z","g":"t"},
{"s":"10.95","t":"2022-10-13T06:48Z","g":"hist"},
{"s":"6.12","t":"2022-10-15T22:41Z","g":"blue"},
{"s":"−4.83","t":"2022-10-18T03:55Z","g":"orange"}
]
},
"layer": [
{
"layer": [
{"data": {"values": [{}]}, "mark": {"type": "rect", "color": "#161a25"},
 "encoding": {
  "x": {"datum": {"year":2022,"month":9,"date":28,"hours":17,"utc":true}, "type": "temporal",
   "scale": {"type": "utc", "domain": [{"year":2022,"month":9,"date":28,"hours":17,"utc":true},{"year":2022,"month":11,"date":26,"hours":3,"minutes":15,"utc":true}], "nice": false, "padding": 0},
   "axis": {"orient": "bottom", "zindex": 1, "values": [{"year":2022,"month":10,"date":1,"utc":true},{"year":2022,"month":10,"date":10,"utc":true},{"year":2022,"month":10,"date":17,"utc":true},{"year":2022,"month":10,"date":24,"utc":true},{"year":2022,"month":11,"date":1,"utc":true},{"year":2022,"month":11,"date":7,"utc":true},{"year":2022,"month":11,"date":14,"utc":true},{"year":2022,"month":11,"date":21,"utc":true}],
    "labelExpr": "utcdate(datum.value) == 1 ? utcFormat(datum.value, '%b') : utcFormat(datum.value, '%-d')",
    "grid": false, "ticks": false, "domain": false, "labelColor": "#c3c6ce", "labelFontSize": 12.5, "labelFont": "Liberation Sans", "labelPadding": 8, "labelOverlap": false, "labelFlush": false,
    "title": "TradingView", "titleX": 26, "titleY": 50, "titleAlign": "left", "titleBaseline": "middle", "titleFontSize": 14, "titleFontWeight": "bold", "titleColor": "#d1d4dc", "titleFont": "Liberation Sans"}},
  "x2": {"datum": {"year":2022,"month":11,"date":30,"hours":23,"utc":true}},
  "y": {"datum": 1744.7, "type": "quantitative",
   "scale": {"domain": [631.6, 1744.7], "nice": false, "zero": false},
   "axis": {"orient": "right", "zindex": 1, "values": [1100, 1300, 1400, 1500, 1600], "format": ".2f", "grid": false, "ticks": false, "domain": false, "labelPadding": 12, "labelColor": "#c3c6ce", "labelFontSize": 12.5, "labelFont": "Liberation Sans",
    "title": "USD", "titleAngle": 0, "titleX": 13, "titleY": 14, "titleAlign": "left", "titleBaseline": "middle", "titleColor": "#c3c6ce", "titleFontSize": 12.5, "titleFontWeight": "normal", "titleFont": "Liberation Sans"}},
  "y2": {"datum": 552.6}
 }},
{"data": {"name": "vt"}, "mark": {"type": "rule", "color": "#222632", "strokeWidth": 1},
 "encoding": {
  "x": {"field": "t", "type": "temporal"},
  "y": {"datum": 1744.7, "type": "quantitative"},
  "y2": {"datum": 631.6}
 }},
{"data": {"name": "pg"}, "mark": {"type": "rule", "color": "#222632", "strokeWidth": 1},
 "encoding": {"y": {"field": "p", "type": "quantitative"}}},
{"data": {"values": [{}]}, "mark": {"type": "rule", "color": "#2a2e39", "strokeWidth": 1.5},
 "encoding": {"y": {"datum": 1010.5, "type": "quantitative"},
  "x": {"datum": {"year":2022,"month":9,"date":28,"hours":17,"utc":true}, "type": "temporal"},
  "x2": {"datum": {"year":2022,"month":11,"date":30,"hours":23,"utc":true}}}},
{"data": {"values": [{}]}, "mark": {"type": "rule", "color": "#f23645", "strokeWidth": 1, "strokeDash": [1, 2], "opacity": 0.8},
 "encoding": {"y": {"datum": 1195.38, "type": "quantitative"}}},
{"data": {"name": "ohlc"}, "mark": {"type": "rule", "strokeWidth": 1},
 "encoding": {
  "x": {"field": "t", "type": "temporal"},
  "y": {"field": "lo", "type": "quantitative"},
  "y2": {"field": "hi"},
  "color": {"condition": {"test": "datum.c >= datum.o", "value": "#26a69a"}, "value": "#ef5350"}
 }},
{"data": {"name": "ohlc"}, "mark": {"type": "bar", "size": 2},
 "encoding": {
  "x": {"field": "t", "type": "temporal"},
  "y": {"field": "o", "type": "quantitative"},
  "y2": {"field": "c"},
  "color": {"condition": {"test": "datum.c >= datum.o", "value": "#26a69a"}, "value": "#ef5350"}
 }},
{"data": {"name": "leg1"}, "mark": {"type": "text", "align": "left", "baseline": "middle", "fontSize": 13, "font": "Liberation Sans"},
 "encoding": {
  "x": {"field": "t", "type": "temporal"},
  "y": {"datum": 1705, "type": "quantitative"},
  "text": {"field": "s"},
  "fill": {"field": "g", "type": "nominal", "legend": null, "scale": {"domain": ["t", "r", "hist", "blue", "orange"], "range": ["#d1d4dc", "#f7525f", "#b2dfdb", "#2962ff", "#ff6d00"]}}
 }},
{"data": {"values": [{}]}, "mark": {"type": "rect", "color": "#f23645", "cornerRadius": 2},
 "encoding": {
  "x": {"datum": {"year":2022,"month":11,"date":26,"hours":1,"minutes":45,"utc":true}, "type": "temporal"},
  "x2": {"datum": {"year":2022,"month":11,"date":30,"hours":18,"minutes":15,"utc":true}},
  "y": {"datum": 1221, "type": "quantitative"},
  "y2": {"datum": 1126.3}
 }},
{"data": {"values": [{"s": "1195.38", "v": 1195.3}, {"s": "01:18:13", "v": 1152.6}]}, "mark": {"type": "text", "align": "left", "baseline": "middle", "fontSize": 12.5, "color": "#ffffff", "font": "Liberation Sans"},
 "encoding": {
  "x": {"datum": {"year":2022,"month":11,"date":26,"hours":21,"minutes":32,"utc":true}, "type": "temporal"},
  "y": {"field": "v", "type": "quantitative"},
  "text": {"field": "s"}
 }}
]
},
{
"layer": [
{"data": {"values": [{}]}, "mark": {"type": "rule", "color": "#222632", "strokeWidth": 1},
 "encoding": {
  "y": {"datum": -100, "type": "quantitative",
   "scale": {"domain": [-134.6, 512.2], "nice": false, "zero": false},
   "axis": {"orient": "right", "zindex": 1, "values": [-100], "format": ".2f", "grid": false, "ticks": false, "domain": false, "labelPadding": 12, "labelColor": "#c3c6ce", "labelFontSize": 12.5, "labelFont": "Liberation Sans",
    "title": "TV", "titleAngle": 0, "titleX": -921, "titleY": 473, "titleAlign": "left", "titleBaseline": "middle", "titleFontSize": 15, "titleFontWeight": 900, "titleColor": "#d1d4dc", "titleFont": "Liberation Sans"}}
 }},
{"data": {"values": [{}]}, "mark": {"type": "rule", "color": "#787b86", "strokeWidth": 1, "strokeDash": [3, 3], "opacity": 0.6},
 "encoding": {"y": {"datum": 0, "type": "quantitative"}}},
{"data": {"name": "ohlc"}, "mark": {"type": "bar", "size": 1.6},
 "encoding": {
  "x": {"field": "t", "type": "temporal"},
  "y": {"field": "h", "type": "quantitative"},
  "y2": {"datum": 0},
  "color": {"field": "k", "type": "nominal", "legend": null, "scale": {"domain": ["gu", "gd", "rd", "ru"], "range": ["#26a69a", "#b2dfdb", "#ff5252", "#ffcdd2"]}}
 }},
{"data": {"name": "ohlc"}, "mark": {"type": "line", "color": "#ff6d00", "strokeWidth": 1.4},
 "encoding": {
  "x": {"field": "t", "type": "temporal"},
  "y": {"field": "s", "type": "quantitative"}
 }},
{"data": {"name": "ohlc"}, "mark": {"type": "line", "color": "#2962ff", "strokeWidth": 1.4},
 "encoding": {
  "x": {"field": "t", "type": "temporal"},
  "y": {"field": "m", "type": "quantitative"}
 }},
{"data": {"name": "leg2"}, "mark": {"type": "text", "align": "left", "baseline": "middle", "fontSize": 13, "font": "Liberation Sans"},
 "encoding": {
  "x": {"field": "t", "type": "temporal"},
  "y": {"datum": 59.6, "type": "quantitative"},
  "text": {"field": "s"},
  "fill": {"field": "g", "type": "nominal", "legend": null, "scale": {"domain": ["t", "r", "hist", "blue", "orange"], "range": ["#d1d4dc", "#f7525f", "#b2dfdb", "#2962ff", "#ff6d00"]}}
 }},
{"data": {"values": [{}]}, "mark": {"type": "rect", "color": "#b2dfdb", "cornerRadius": 2},
 "encoding": {
  "x": {"datum": {"year":2022,"month":11,"date":26,"hours":1,"minutes":45,"utc":true}, "type": "temporal"},
  "x2": {"datum": {"year":2022,"month":11,"date":29,"hours":10,"minutes":22,"utc":true}},
  "y": {"datum": 24.5, "type": "quantitative"},
  "y2": {"datum": -4.6}
 }},
{"data": {"values": [{}]}, "mark": {"type": "rect", "color": "#2962ff", "cornerRadius": 2},
 "encoding": {
  "x": {"datum": {"year":2022,"month":11,"date":26,"hours":1,"minutes":45,"utc":true}, "type": "temporal"},
  "x2": {"datum": {"year":2022,"month":11,"date":28,"hours":23,"minutes":42,"utc":true}},
  "y": {"datum": -6.1, "type": "quantitative"},
  "y2": {"datum": -33.6}
 }},
{"data": {"values": [{}]}, "mark": {"type": "rect", "color": "#ff6d00", "cornerRadius": 2},
 "encoding": {
  "x": {"datum": {"year":2022,"month":11,"date":26,"hours":1,"minutes":45,"utc":true}, "type": "temporal"},
  "x2": {"datum": {"year":2022,"month":11,"date":29,"hours":10,"minutes":22,"utc":true}},
  "y": {"datum": -33.6, "type": "quantitative"},
  "y2": {"datum": -64.2}
 }},
{"data": {"values": [{"s": "10.95", "v": 9.9, "g": "d"}, {"s": "6.12", "v": -19.9, "g": "w"}, {"s": "−4.83", "v": -48.9, "g": "w"}]}, "mark": {"type": "text", "align": "left", "baseline": "middle", "fontSize": 12.5, "font": "Liberation Sans"},
 "encoding": {
  "x": {"datum": {"year":2022,"month":11,"date":26,"hours":21,"minutes":32,"utc":true}, "type": "temporal"},
  "y": {"field": "v", "type": "quantitative"},
  "text": {"field": "s"},
  "color": {"condition": {"test": "datum.g == 'd'", "value": "#131722"}, "value": "#ffffff"}
 }}
]
}
],
"resolve": {"scale": {"y": "independent", "fill": "independent"}, "axis": {"y": "independent"}}
}
